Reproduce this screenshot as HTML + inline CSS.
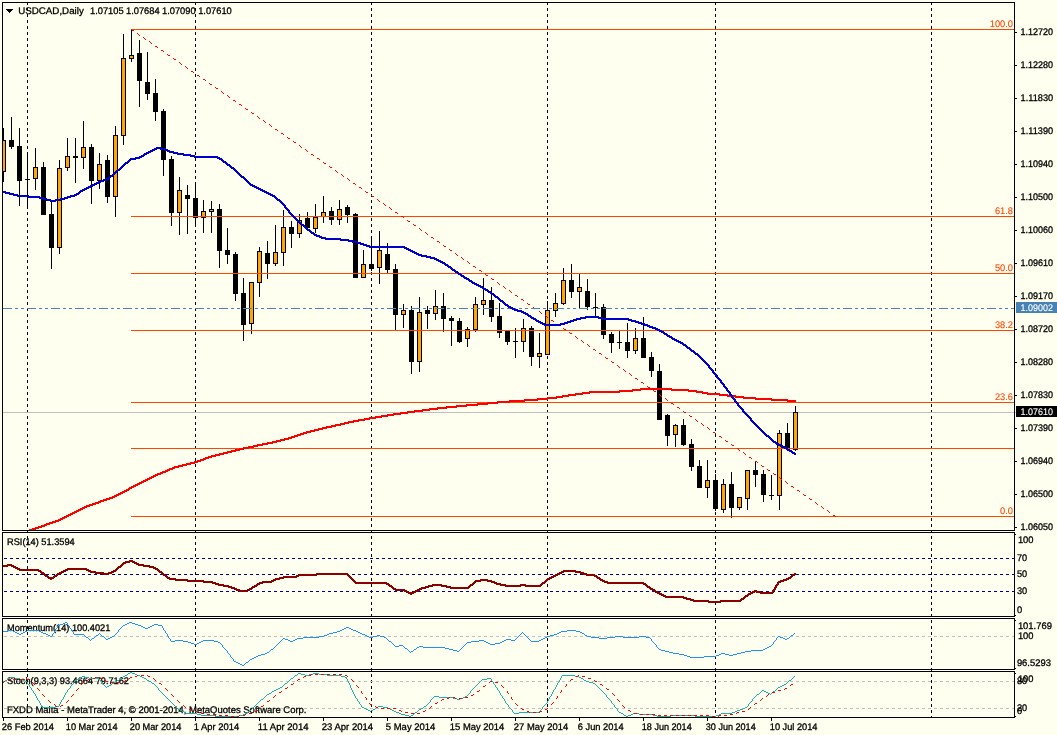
<!DOCTYPE html>
<html lang="en"><head><meta charset="utf-8"><title>USDCAD,Daily</title>
<style>
html,body{margin:0;padding:0;background:#FFFFF0;}
body{width:1057px;height:735px;overflow:hidden;}
svg{display:block;}
text{font-family:"Liberation Sans", "DejaVu Sans", sans-serif;font-size:9.6px;stroke:#000;stroke-width:.3px;text-rendering:geometricPrecision;}
.c{shape-rendering:crispEdges;}
</style></head><body>
<svg width="1057" height="735" viewBox="0 0 1057 735">
<rect width="1057" height="735" fill="#FFFFF0"/>
<defs>
<clipPath id="cm"><rect x="3" y="3" width="1011" height="527"/></clipPath>
<clipPath id="cr"><rect x="3" y="533" width="1011" height="83"/></clipPath>
<clipPath id="co"><rect x="3" y="619" width="1011" height="50"/></clipPath>
<clipPath id="cs"><rect x="3" y="672" width="1011" height="45"/></clipPath>
</defs>
<g class="c">
<line x1="27.5" y1="2" x2="27.5" y2="717" stroke="#000" stroke-width="1" stroke-dasharray="3 3"/>
<line x1="195.5" y1="2" x2="195.5" y2="717" stroke="#000" stroke-width="1" stroke-dasharray="3 3"/>
<line x1="371.5" y1="2" x2="371.5" y2="717" stroke="#000" stroke-width="1" stroke-dasharray="3 3"/>
<line x1="547.5" y1="2" x2="547.5" y2="717" stroke="#000" stroke-width="1" stroke-dasharray="3 3"/>
<line x1="715.5" y1="2" x2="715.5" y2="717" stroke="#000" stroke-width="1" stroke-dasharray="3 3"/>
<line x1="931.5" y1="2" x2="931.5" y2="717" stroke="#000" stroke-width="1" stroke-dasharray="3 3"/>
<rect x="3" y="412" width="1014" height="1" fill="#C0C0C0"/>
<g clip-path="url(#cm)">
<rect x="3" y="128" width="1" height="54" fill="#000"/>
<rect x="1" y="140" width="5" height="32" fill="#000"/>
<rect x="2" y="141" width="3" height="30" fill="#FFA500"/>
<rect x="11" y="117" width="1" height="32" fill="#000"/>
<rect x="9" y="140" width="5" height="7" fill="#000"/>
<rect x="19" y="128" width="1" height="78" fill="#000"/>
<rect x="17" y="146" width="5" height="35" fill="#000"/>
<rect x="27" y="152" width="1" height="57" fill="#000"/>
<rect x="25" y="179" width="5" height="1" fill="#000"/>
<rect x="35" y="148" width="1" height="42" fill="#000"/>
<rect x="33" y="167" width="5" height="12" fill="#000"/>
<rect x="34" y="168" width="3" height="10" fill="#FFA500"/>
<rect x="43" y="162" width="1" height="53" fill="#000"/>
<rect x="41" y="167" width="5" height="48" fill="#000"/>
<rect x="51" y="201" width="1" height="68" fill="#000"/>
<rect x="49" y="214" width="5" height="34" fill="#000"/>
<rect x="59" y="160" width="1" height="94" fill="#000"/>
<rect x="57" y="168" width="5" height="80" fill="#000"/>
<rect x="58" y="169" width="3" height="78" fill="#FFA500"/>
<rect x="67" y="138" width="1" height="33" fill="#000"/>
<rect x="65" y="156" width="5" height="12" fill="#000"/>
<rect x="66" y="157" width="3" height="10" fill="#FFA500"/>
<rect x="75" y="138" width="1" height="45" fill="#000"/>
<rect x="73" y="156" width="5" height="2" fill="#000"/>
<rect x="83" y="121" width="1" height="48" fill="#000"/>
<rect x="81" y="147" width="5" height="11" fill="#000"/>
<rect x="82" y="148" width="3" height="9" fill="#FFA500"/>
<rect x="91" y="144" width="1" height="60" fill="#000"/>
<rect x="89" y="147" width="5" height="34" fill="#000"/>
<rect x="99" y="153" width="1" height="36" fill="#000"/>
<rect x="97" y="164" width="5" height="17" fill="#000"/>
<rect x="98" y="165" width="3" height="15" fill="#FFA500"/>
<rect x="107" y="155" width="1" height="48" fill="#000"/>
<rect x="105" y="160" width="5" height="37" fill="#000"/>
<rect x="115" y="126" width="1" height="91" fill="#000"/>
<rect x="113" y="135" width="5" height="62" fill="#000"/>
<rect x="114" y="136" width="3" height="60" fill="#FFA500"/>
<rect x="123" y="34" width="1" height="111" fill="#000"/>
<rect x="121" y="58" width="5" height="78" fill="#000"/>
<rect x="122" y="59" width="3" height="76" fill="#FFA500"/>
<rect x="131" y="30" width="1" height="32" fill="#000"/>
<rect x="129" y="55" width="5" height="4" fill="#000"/>
<rect x="130" y="56" width="3" height="2" fill="#FFA500"/>
<rect x="139" y="40" width="1" height="67" fill="#000"/>
<rect x="137" y="53" width="5" height="28" fill="#000"/>
<rect x="147" y="52" width="1" height="48" fill="#000"/>
<rect x="145" y="82" width="5" height="12" fill="#000"/>
<rect x="155" y="79" width="1" height="42" fill="#000"/>
<rect x="153" y="93" width="5" height="19" fill="#000"/>
<rect x="163" y="109" width="1" height="67" fill="#000"/>
<rect x="161" y="111" width="5" height="49" fill="#000"/>
<rect x="171" y="156" width="1" height="70" fill="#000"/>
<rect x="169" y="159" width="5" height="54" fill="#000"/>
<rect x="179" y="177" width="1" height="58" fill="#000"/>
<rect x="177" y="190" width="5" height="23" fill="#000"/>
<rect x="178" y="191" width="3" height="21" fill="#FFA500"/>
<rect x="187" y="185" width="1" height="49" fill="#000"/>
<rect x="185" y="195" width="5" height="4" fill="#000"/>
<rect x="195" y="182" width="1" height="45" fill="#000"/>
<rect x="193" y="198" width="5" height="20" fill="#000"/>
<rect x="203" y="200" width="1" height="33" fill="#000"/>
<rect x="201" y="211" width="5" height="7" fill="#000"/>
<rect x="202" y="212" width="3" height="5" fill="#FFA500"/>
<rect x="211" y="201" width="1" height="32" fill="#000"/>
<rect x="209" y="209" width="5" height="3" fill="#000"/>
<rect x="210" y="210" width="3" height="1" fill="#FFA500"/>
<rect x="219" y="204" width="1" height="64" fill="#000"/>
<rect x="217" y="209" width="5" height="42" fill="#000"/>
<rect x="227" y="228" width="1" height="36" fill="#000"/>
<rect x="225" y="250" width="5" height="5" fill="#000"/>
<rect x="235" y="252" width="1" height="49" fill="#000"/>
<rect x="233" y="254" width="5" height="40" fill="#000"/>
<rect x="243" y="278" width="1" height="63" fill="#000"/>
<rect x="241" y="293" width="5" height="32" fill="#000"/>
<rect x="251" y="282" width="1" height="52" fill="#000"/>
<rect x="249" y="282" width="5" height="42" fill="#000"/>
<rect x="250" y="283" width="3" height="40" fill="#FFA500"/>
<rect x="259" y="247" width="1" height="50" fill="#000"/>
<rect x="257" y="251" width="5" height="32" fill="#000"/>
<rect x="258" y="252" width="3" height="30" fill="#FFA500"/>
<rect x="267" y="241" width="1" height="38" fill="#000"/>
<rect x="265" y="253" width="5" height="11" fill="#000"/>
<rect x="275" y="225" width="1" height="41" fill="#000"/>
<rect x="273" y="252" width="5" height="12" fill="#000"/>
<rect x="274" y="253" width="3" height="10" fill="#FFA500"/>
<rect x="283" y="210" width="1" height="56" fill="#000"/>
<rect x="281" y="227" width="5" height="26" fill="#000"/>
<rect x="282" y="228" width="3" height="24" fill="#FFA500"/>
<rect x="291" y="221" width="1" height="27" fill="#000"/>
<rect x="289" y="227" width="5" height="7" fill="#000"/>
<rect x="299" y="214" width="1" height="24" fill="#000"/>
<rect x="297" y="220" width="5" height="14" fill="#000"/>
<rect x="298" y="221" width="3" height="12" fill="#FFA500"/>
<rect x="307" y="212" width="1" height="18" fill="#000"/>
<rect x="305" y="218" width="5" height="10" fill="#000"/>
<rect x="315" y="204" width="1" height="29" fill="#000"/>
<rect x="313" y="217" width="5" height="12" fill="#000"/>
<rect x="314" y="218" width="3" height="10" fill="#FFA500"/>
<rect x="323" y="196" width="1" height="27" fill="#000"/>
<rect x="321" y="212" width="5" height="5" fill="#000"/>
<rect x="322" y="213" width="3" height="3" fill="#FFA500"/>
<rect x="331" y="207" width="1" height="18" fill="#000"/>
<rect x="329" y="211" width="5" height="9" fill="#000"/>
<rect x="339" y="200" width="1" height="25" fill="#000"/>
<rect x="337" y="209" width="5" height="11" fill="#000"/>
<rect x="338" y="210" width="3" height="9" fill="#FFA500"/>
<rect x="347" y="205" width="1" height="18" fill="#000"/>
<rect x="345" y="207" width="5" height="8" fill="#000"/>
<rect x="355" y="213" width="1" height="65" fill="#000"/>
<rect x="353" y="214" width="5" height="64" fill="#000"/>
<rect x="363" y="250" width="1" height="28" fill="#000"/>
<rect x="361" y="264" width="5" height="14" fill="#000"/>
<rect x="362" y="265" width="3" height="12" fill="#FFA500"/>
<rect x="371" y="237" width="1" height="34" fill="#000"/>
<rect x="369" y="264" width="5" height="5" fill="#000"/>
<rect x="379" y="231" width="1" height="53" fill="#000"/>
<rect x="377" y="250" width="5" height="18" fill="#000"/>
<rect x="378" y="251" width="3" height="16" fill="#FFA500"/>
<rect x="387" y="243" width="1" height="31" fill="#000"/>
<rect x="385" y="254" width="5" height="16" fill="#000"/>
<rect x="395" y="264" width="1" height="66" fill="#000"/>
<rect x="393" y="269" width="5" height="46" fill="#000"/>
<rect x="403" y="304" width="1" height="24" fill="#000"/>
<rect x="401" y="310" width="5" height="5" fill="#000"/>
<rect x="402" y="311" width="3" height="3" fill="#FFA500"/>
<rect x="411" y="306" width="1" height="68" fill="#000"/>
<rect x="409" y="310" width="5" height="52" fill="#000"/>
<rect x="419" y="297" width="1" height="75" fill="#000"/>
<rect x="417" y="312" width="5" height="50" fill="#000"/>
<rect x="418" y="313" width="3" height="48" fill="#FFA500"/>
<rect x="427" y="306" width="1" height="23" fill="#000"/>
<rect x="425" y="310" width="5" height="4" fill="#000"/>
<rect x="435" y="290" width="1" height="30" fill="#000"/>
<rect x="433" y="306" width="5" height="8" fill="#000"/>
<rect x="434" y="307" width="3" height="6" fill="#FFA500"/>
<rect x="443" y="293" width="1" height="39" fill="#000"/>
<rect x="441" y="306" width="5" height="13" fill="#000"/>
<rect x="451" y="316" width="1" height="30" fill="#000"/>
<rect x="449" y="318" width="5" height="3" fill="#000"/>
<rect x="459" y="318" width="1" height="25" fill="#000"/>
<rect x="457" y="321" width="5" height="21" fill="#000"/>
<rect x="467" y="327" width="1" height="20" fill="#000"/>
<rect x="465" y="329" width="5" height="10" fill="#000"/>
<rect x="466" y="330" width="3" height="8" fill="#FFA500"/>
<rect x="475" y="297" width="1" height="35" fill="#000"/>
<rect x="473" y="304" width="5" height="26" fill="#000"/>
<rect x="474" y="305" width="3" height="24" fill="#FFA500"/>
<rect x="483" y="278" width="1" height="37" fill="#000"/>
<rect x="481" y="300" width="5" height="5" fill="#000"/>
<rect x="482" y="301" width="3" height="3" fill="#FFA500"/>
<rect x="491" y="287" width="1" height="35" fill="#000"/>
<rect x="489" y="300" width="5" height="17" fill="#000"/>
<rect x="499" y="303" width="1" height="35" fill="#000"/>
<rect x="497" y="316" width="5" height="17" fill="#000"/>
<rect x="507" y="330" width="1" height="15" fill="#000"/>
<rect x="505" y="331" width="5" height="11" fill="#000"/>
<rect x="515" y="328" width="1" height="30" fill="#000"/>
<rect x="513" y="341" width="5" height="1" fill="#000"/>
<rect x="523" y="319" width="1" height="33" fill="#000"/>
<rect x="521" y="328" width="5" height="14" fill="#000"/>
<rect x="522" y="329" width="3" height="12" fill="#FFA500"/>
<rect x="531" y="326" width="1" height="40" fill="#000"/>
<rect x="529" y="328" width="5" height="29" fill="#000"/>
<rect x="539" y="333" width="1" height="35" fill="#000"/>
<rect x="537" y="353" width="5" height="4" fill="#000"/>
<rect x="538" y="354" width="3" height="2" fill="#FFA500"/>
<rect x="547" y="301" width="1" height="54" fill="#000"/>
<rect x="545" y="310" width="5" height="45" fill="#000"/>
<rect x="546" y="311" width="3" height="43" fill="#FFA500"/>
<rect x="555" y="293" width="1" height="24" fill="#000"/>
<rect x="553" y="303" width="5" height="8" fill="#000"/>
<rect x="554" y="304" width="3" height="6" fill="#FFA500"/>
<rect x="563" y="268" width="1" height="37" fill="#000"/>
<rect x="561" y="280" width="5" height="24" fill="#000"/>
<rect x="562" y="281" width="3" height="22" fill="#FFA500"/>
<rect x="571" y="264" width="1" height="34" fill="#000"/>
<rect x="569" y="280" width="5" height="12" fill="#000"/>
<rect x="579" y="274" width="1" height="35" fill="#000"/>
<rect x="577" y="287" width="5" height="5" fill="#000"/>
<rect x="578" y="288" width="3" height="3" fill="#FFA500"/>
<rect x="587" y="279" width="1" height="31" fill="#000"/>
<rect x="585" y="291" width="5" height="16" fill="#000"/>
<rect x="595" y="293" width="1" height="24" fill="#000"/>
<rect x="593" y="307" width="5" height="1" fill="#000"/>
<rect x="603" y="304" width="1" height="35" fill="#000"/>
<rect x="601" y="307" width="5" height="28" fill="#000"/>
<rect x="611" y="332" width="1" height="21" fill="#000"/>
<rect x="609" y="334" width="5" height="9" fill="#000"/>
<rect x="619" y="331" width="1" height="18" fill="#000"/>
<rect x="617" y="342" width="5" height="1" fill="#000"/>
<rect x="627" y="323" width="1" height="35" fill="#000"/>
<rect x="625" y="342" width="5" height="9" fill="#000"/>
<rect x="635" y="328" width="1" height="26" fill="#000"/>
<rect x="633" y="338" width="5" height="13" fill="#000"/>
<rect x="634" y="339" width="3" height="11" fill="#FFA500"/>
<rect x="643" y="317" width="1" height="41" fill="#000"/>
<rect x="641" y="338" width="5" height="20" fill="#000"/>
<rect x="651" y="352" width="1" height="25" fill="#000"/>
<rect x="649" y="357" width="5" height="14" fill="#000"/>
<rect x="659" y="364" width="1" height="56" fill="#000"/>
<rect x="657" y="371" width="5" height="49" fill="#000"/>
<rect x="667" y="414" width="1" height="32" fill="#000"/>
<rect x="665" y="415" width="5" height="21" fill="#000"/>
<rect x="675" y="424" width="1" height="23" fill="#000"/>
<rect x="673" y="425" width="5" height="10" fill="#000"/>
<rect x="674" y="426" width="3" height="8" fill="#FFA500"/>
<rect x="683" y="419" width="1" height="27" fill="#000"/>
<rect x="681" y="425" width="5" height="20" fill="#000"/>
<rect x="691" y="439" width="1" height="32" fill="#000"/>
<rect x="689" y="444" width="5" height="23" fill="#000"/>
<rect x="699" y="460" width="1" height="28" fill="#000"/>
<rect x="697" y="466" width="5" height="22" fill="#000"/>
<rect x="707" y="460" width="1" height="38" fill="#000"/>
<rect x="705" y="480" width="5" height="8" fill="#000"/>
<rect x="706" y="481" width="3" height="6" fill="#FFA500"/>
<rect x="715" y="474" width="1" height="37" fill="#000"/>
<rect x="713" y="480" width="5" height="29" fill="#000"/>
<rect x="723" y="479" width="1" height="34" fill="#000"/>
<rect x="721" y="484" width="5" height="26" fill="#000"/>
<rect x="722" y="485" width="3" height="24" fill="#FFA500"/>
<rect x="731" y="472" width="1" height="46" fill="#000"/>
<rect x="729" y="484" width="5" height="24" fill="#000"/>
<rect x="739" y="497" width="1" height="13" fill="#000"/>
<rect x="737" y="497" width="5" height="11" fill="#000"/>
<rect x="738" y="498" width="3" height="9" fill="#FFA500"/>
<rect x="747" y="470" width="1" height="40" fill="#000"/>
<rect x="745" y="470" width="5" height="29" fill="#000"/>
<rect x="746" y="471" width="3" height="27" fill="#FFA500"/>
<rect x="755" y="461" width="1" height="26" fill="#000"/>
<rect x="753" y="470" width="5" height="5" fill="#000"/>
<rect x="763" y="470" width="1" height="32" fill="#000"/>
<rect x="761" y="474" width="5" height="21" fill="#000"/>
<rect x="771" y="475" width="1" height="25" fill="#000"/>
<rect x="769" y="495" width="5" height="1" fill="#000"/>
<rect x="779" y="430" width="1" height="80" fill="#000"/>
<rect x="777" y="433" width="5" height="63" fill="#000"/>
<rect x="778" y="434" width="3" height="61" fill="#FFA500"/>
<rect x="787" y="423" width="1" height="26" fill="#000"/>
<rect x="785" y="433" width="5" height="16" fill="#000"/>
<rect x="795" y="406" width="1" height="45" fill="#000"/>
<rect x="793" y="412" width="5" height="38" fill="#000"/>
<rect x="794" y="413" width="3" height="36" fill="#FFA500"/>
</g>
</g>
<g class="c">
<rect x="131" y="29" width="883" height="1" fill="#FF4500"/>
<rect x="131" y="216" width="883" height="1" fill="#FF4500"/>
<rect x="131" y="273" width="883" height="1" fill="#FF4500"/>
<rect x="131" y="330" width="883" height="1" fill="#FF4500"/>
<rect x="131" y="402" width="883" height="1" fill="#FF4500"/>
<rect x="131" y="448" width="883" height="1" fill="#FF4500"/>
<rect x="131" y="516" width="883" height="1" fill="#FF4500"/>
</g>
<g class="c" clip-path="url(#cm)">
<path d="M131 29h1v1h-1zM132 30h2v1h-2zM137 33h1v1h-1zM138 34h1v1h-1zM139 35h1v1h-1zM143 37h1v1h-1zM144 38h1v1h-1zM145 39h1v1h-1zM149 41h1v1h-1zM150 42h1v1h-1zM151 43h1v1h-1zM155 46h2v1h-2zM157 47h1v1h-1zM161 50h2v1h-2zM163 51h1v1h-1zM167 54h1v1h-1zM168 55h2v1h-2zM173 58h1v1h-1zM174 59h2v1h-2zM179 62h1v1h-1zM180 63h1v1h-1zM181 64h1v1h-1zM185 66h1v1h-1zM186 67h1v1h-1zM187 68h1v1h-1zM191 71h2v1h-2zM193 72h1v1h-1zM197 75h2v1h-2zM199 76h1v1h-1zM203 79h2v1h-2zM205 80h1v1h-1zM209 83h1v1h-1zM210 84h2v1h-2zM215 87h1v1h-1zM216 88h2v1h-2zM221 91h1v1h-1zM222 92h1v1h-1zM223 93h1v1h-1zM227 95h1v1h-1zM228 96h1v1h-1zM229 97h1v1h-1zM233 100h2v1h-2zM235 101h1v1h-1zM239 104h2v1h-2zM241 105h1v1h-1zM245 108h1v1h-1zM246 109h2v1h-2zM251 112h1v1h-1zM252 113h2v1h-2zM257 116h1v1h-1zM258 117h1v1h-1zM259 118h1v1h-1zM263 120h1v1h-1zM264 121h1v1h-1zM265 122h1v1h-1zM269 124h1v1h-1zM270 125h1v1h-1zM271 126h1v1h-1zM275 129h2v1h-2zM277 130h1v1h-1zM281 133h2v1h-2zM283 134h1v1h-1zM287 137h1v1h-1zM288 138h2v1h-2zM293 141h1v1h-1zM294 142h2v1h-2zM299 145h1v1h-1zM300 146h1v1h-1zM301 147h1v1h-1zM305 149h1v1h-1zM306 150h1v1h-1zM307 151h1v1h-1zM311 154h2v1h-2zM313 155h1v1h-1zM317 158h2v1h-2zM319 159h1v1h-1zM323 162h1v1h-1zM324 163h2v1h-2zM329 166h1v1h-1zM330 167h2v1h-2zM335 170h1v1h-1zM336 171h1v1h-1zM337 172h1v1h-1zM341 174h1v1h-1zM342 175h1v1h-1zM343 176h1v1h-1zM347 178h1v1h-1zM348 179h1v1h-1zM349 180h1v1h-1zM353 183h2v1h-2zM355 184h1v1h-1zM359 187h2v1h-2zM361 188h1v1h-1zM365 191h1v1h-1zM366 192h2v1h-2zM371 195h1v1h-1zM372 196h2v1h-2zM377 199h1v1h-1zM378 200h1v1h-1zM379 201h1v1h-1zM383 203h1v1h-1zM384 204h1v1h-1zM385 205h1v1h-1zM389 207h1v1h-1zM390 208h1v1h-1zM391 209h1v1h-1zM395 212h2v1h-2zM397 213h1v1h-1zM401 216h2v1h-2zM403 217h1v1h-1zM407 220h1v1h-1zM408 221h2v1h-2zM413 224h1v1h-1zM414 225h2v1h-2zM419 228h1v1h-1zM420 229h1v1h-1zM421 230h1v1h-1zM425 232h1v1h-1zM426 233h1v1h-1zM427 234h1v1h-1zM431 237h2v1h-2zM433 238h1v1h-1zM437 241h2v1h-2zM439 242h1v1h-1zM443 245h1v1h-1zM444 246h2v1h-2zM449 249h1v1h-1zM450 250h2v1h-2zM455 253h1v1h-1zM456 254h1v1h-1zM457 255h1v1h-1zM461 257h1v1h-1zM462 258h1v1h-1zM463 259h1v1h-1zM467 261h1v1h-1zM468 262h1v1h-1zM469 263h1v1h-1zM473 266h2v1h-2zM475 267h1v1h-1zM479 270h2v1h-2zM481 271h1v1h-1zM485 274h1v1h-1zM486 275h2v1h-2zM491 278h1v1h-1zM492 279h2v1h-2zM497 282h1v1h-1zM498 283h1v1h-1zM499 284h1v1h-1zM503 286h1v1h-1zM504 287h1v1h-1zM505 288h1v1h-1zM509 290h1v1h-1zM510 291h1v1h-1zM511 292h1v1h-1zM515 295h2v1h-2zM517 296h1v1h-1zM521 299h2v1h-2zM523 300h1v1h-1zM527 303h1v1h-1zM528 304h2v1h-2zM533 307h1v1h-1zM534 308h2v1h-2zM539 311h1v1h-1zM540 312h1v1h-1zM541 313h1v1h-1zM545 315h1v1h-1zM546 316h1v1h-1zM547 317h1v1h-1zM551 320h2v1h-2zM553 321h1v1h-1zM557 324h2v1h-2zM559 325h1v1h-1zM563 328h1v1h-1zM564 329h2v1h-2zM569 332h1v1h-1zM570 333h2v1h-2zM575 336h1v1h-1zM576 337h1v1h-1zM577 338h1v1h-1zM581 340h1v1h-1zM582 341h1v1h-1zM583 342h1v1h-1zM587 344h1v1h-1zM588 345h1v1h-1zM589 346h1v1h-1zM593 349h2v1h-2zM595 350h1v1h-1zM599 353h2v1h-2zM601 354h1v1h-1zM605 357h1v1h-1zM606 358h2v1h-2zM611 361h1v1h-1zM612 362h2v1h-2zM617 365h1v1h-1zM618 366h1v1h-1zM619 367h1v1h-1zM623 369h1v1h-1zM624 370h1v1h-1zM625 371h1v1h-1zM629 373h1v1h-1zM630 374h1v1h-1zM631 375h1v1h-1zM635 378h2v1h-2zM637 379h1v1h-1zM641 382h2v1h-2zM643 383h1v1h-1zM647 386h1v1h-1zM648 387h2v1h-2zM653 390h1v1h-1zM654 391h2v1h-2zM659 394h1v1h-1zM660 395h1v1h-1zM661 396h1v1h-1zM665 398h1v1h-1zM666 399h1v1h-1zM667 400h1v1h-1zM671 403h2v1h-2zM673 404h1v1h-1zM677 407h2v1h-2zM679 408h1v1h-1zM683 411h1v1h-1zM684 412h2v1h-2zM689 415h1v1h-1zM690 416h2v1h-2zM695 419h1v1h-1zM696 420h1v1h-1zM697 421h1v1h-1zM701 423h1v1h-1zM702 424h1v1h-1zM703 425h1v1h-1zM707 427h1v1h-1zM708 428h1v1h-1zM709 429h1v1h-1zM713 432h2v1h-2zM715 433h1v1h-1zM719 436h2v1h-2zM721 437h1v1h-1zM725 440h1v1h-1zM726 441h2v1h-2zM731 444h1v1h-1zM732 445h2v1h-2zM737 448h1v1h-1zM738 449h1v1h-1zM739 450h1v1h-1zM743 452h1v1h-1zM744 453h1v1h-1zM745 454h1v1h-1zM749 457h2v1h-2zM751 458h1v1h-1zM755 461h2v1h-2zM757 462h1v1h-1zM761 465h1v1h-1zM762 466h2v1h-2zM767 469h1v1h-1zM768 470h2v1h-2zM773 473h1v1h-1zM774 474h2v1h-2zM779 477h1v1h-1zM780 478h1v1h-1zM781 479h1v1h-1zM785 481h1v1h-1zM786 482h1v1h-1zM787 483h1v1h-1zM791 486h2v1h-2zM793 487h1v1h-1zM797 490h2v1h-2zM799 491h1v1h-1zM803 494h1v1h-1zM804 495h2v1h-2zM809 498h1v1h-1zM810 499h2v1h-2zM815 502h1v1h-1zM816 503h1v1h-1zM817 504h1v1h-1zM821 506h1v1h-1zM822 507h1v1h-1zM823 508h1v1h-1zM827 510h1v1h-1zM828 511h1v1h-1zM829 512h1v1h-1zM833 515h2v1h-2zM835 516h1v1h-1z" fill="#FF0000"/>
<line x1="3" y1="308.5" x2="1014" y2="308.5" stroke="#4682B4" stroke-width="1" stroke-dasharray="9 3 3 3 3 3"/>
<path d="M29 529h7v1h-7zM32 528h7v1h-7zM35 527h7v1h-7zM38 526h7v1h-7zM41 525h6v1h-6zM44 524h6v1h-6zM46 523h7v1h-7zM49 522h7v1h-7zM52 521h7v1h-7zM55 520h6v1h-6zM58 519h5v1h-5zM60 518h5v1h-5zM62 517h5v1h-5zM64 516h5v1h-5zM66 515h5v1h-5zM68 514h5v1h-5zM70 513h5v1h-5zM72 512h5v1h-5zM74 511h5v1h-5zM76 510h5v1h-5zM78 509h5v1h-5zM80 508h5v1h-5zM82 507h5v1h-5zM84 506h6v1h-6zM86 505h7v1h-7zM89 504h7v1h-7zM92 503h7v1h-7zM95 502h6v1h-6zM98 501h6v1h-6zM100 500h7v1h-7zM103 499h7v1h-7zM106 498h7v1h-7zM109 497h6v1h-6zM112 496h5v1h-5zM114 495h5v1h-5zM116 494h5v1h-5zM118 493h5v1h-5zM120 492h5v1h-5zM122 491h5v1h-5zM124 490h5v1h-5zM126 489h4v1h-4zM128 488h4v1h-4zM129 487h5v1h-5zM131 486h5v1h-5zM133 485h5v1h-5zM135 484h5v1h-5zM137 483h5v1h-5zM139 482h5v1h-5zM141 481h5v1h-5zM143 480h5v1h-5zM145 479h5v1h-5zM147 478h5v1h-5zM149 477h5v1h-5zM151 476h5v1h-5zM153 475h5v1h-5zM155 474h6v1h-6zM157 473h6v1h-6zM160 472h6v1h-6zM162 471h6v1h-6zM165 470h5v1h-5zM167 469h6v1h-6zM169 468h6v1h-6zM172 467h7v1h-7zM174 466h9v1h-9zM178 465h9v1h-9zM182 464h9v1h-9zM186 463h9v1h-9zM190 462h8v1h-8zM194 461h7v1h-7zM197 460h7v1h-7zM200 459h6v1h-6zM203 458h6v1h-6zM205 457h7v1h-7zM208 456h8v1h-8zM211 455h9v1h-9zM215 454h9v1h-9zM219 453h9v1h-9zM223 452h9v1h-9zM227 451h9v1h-9zM231 450h9v1h-9zM235 449h9v1h-9zM239 448h10v1h-10zM243 447h11v1h-11zM248 446h10v1h-10zM253 445h10v1h-10zM257 444h11v1h-11zM262 443h11v1h-11zM267 442h10v1h-10zM272 441h9v1h-9zM276 440h9v1h-9zM280 439h9v1h-9zM284 438h8v1h-8zM288 437h7v1h-7zM291 436h7v1h-7zM294 435h7v1h-7zM297 434h7v1h-7zM300 433h7v1h-7zM303 432h8v1h-8zM306 431h9v1h-9zM310 430h9v1h-9zM314 429h9v1h-9zM318 428h9v1h-9zM322 427h10v1h-10zM326 426h10v1h-10zM331 425h10v1h-10zM335 424h10v1h-10zM340 423h9v1h-9zM344 422h10v1h-10zM348 421h11v1h-11zM353 420h12v1h-12zM358 419h12v1h-12zM364 418h12v1h-12zM369 417h13v1h-13zM375 416h13v1h-13zM381 415h13v1h-13zM387 414h14v1h-14zM393 413h15v1h-15zM400 412h15v1h-15zM407 411h16v1h-16zM414 410h16v1h-16zM422 409h16v1h-16zM429 408h18v1h-18zM437 407h20v1h-20zM446 406h21v1h-21zM456 405h22v1h-22zM466 404h22v1h-22zM477 403h21v1h-21zM487 402h23v1h-23zM497 401h28v1h-28zM509 400h29v1h-29zM524 399h24v1h-24zM537 398h20v1h-20zM547 397h16v1h-16zM556 396h13v1h-13zM562 395h14v1h-14zM568 394h15v1h-15zM575 393h15v1h-15zM582 392h38v1h-38zM589 391h44v1h-44zM619 390h22v1h-22zM632 389h57v1h-57zM640 388h32v1h-32zM671 390h26v1h-26zM688 391h15v1h-15zM696 392h12v1h-12zM702 393h18v1h-18zM707 394h21v1h-21zM719 395h17v1h-17zM727 396h17v1h-17zM735 397h21v1h-21zM743 398h29v1h-29zM755 399h33v1h-33zM771 400h25v1h-25zM787 401h9v1h-9z" fill="#FF0000"/>
<path d="M3 191h3v1h-3zM3 192h7v1h-7zM5 193h9v1h-9zM9 194h9v1h-9zM13 195h16v1h-16zM17 196h23v1h-23zM28 197h16v1h-16zM39 198h8v1h-8zM43 199h8v1h-8zM46 200h15v1h-15zM50 201h6v1h-6zM55 199h10v1h-10zM60 198h8v1h-8zM64 197h7v1h-7zM67 196h8v1h-8zM70 195h7v1h-7zM74 194h5v1h-5zM76 193h4v1h-4zM78 192h3v1h-3zM79 191h4v1h-4zM80 190h5v1h-5zM82 189h5v1h-5zM84 188h5v1h-5zM86 187h5v1h-5zM88 186h5v1h-5zM90 185h5v1h-5zM92 184h5v1h-5zM94 183h5v1h-5zM96 182h5v1h-5zM98 181h6v1h-6zM100 180h7v1h-7zM103 179h6v1h-6zM106 178h4v1h-4zM108 177h3v1h-3zM109 176h4v1h-4zM110 175h4v1h-4zM112 174h3v1h-3zM113 173h3v1h-3zM114 172h3v1h-3zM115 171h3v1h-3zM116 170h4v1h-4zM117 169h4v1h-4zM119 168h3v1h-3zM120 167h3v1h-3zM121 166h3v1h-3zM122 165h3v1h-3zM123 164h3v1h-3zM124 163h4v1h-4zM125 162h4v1h-4zM127 161h3v1h-3zM128 160h3v1h-3zM129 159h7v1h-7zM130 158h10v1h-10zM135 157h7v1h-7zM139 156h5v1h-5zM141 155h4v1h-4zM143 154h4v1h-4zM144 153h5v1h-5zM146 152h5v1h-5zM148 151h5v1h-5zM150 150h5v1h-5zM152 149h5v1h-5zM154 148h12v1h-12zM156 147h5v1h-5zM160 149h8v1h-8zM165 150h5v1h-5zM167 151h7v1h-7zM169 152h9v1h-9zM173 153h11v1h-11zM177 154h14v1h-14zM183 155h12v1h-12zM190 156h28v1h-28zM194 157h26v1h-26zM217 158h5v1h-5zM219 159h4v1h-4zM221 160h3v1h-3zM222 161h4v1h-4zM223 162h4v1h-4zM225 163h3v1h-3zM226 164h4v1h-4zM227 165h4v1h-4zM229 166h3v1h-3zM230 167h4v1h-4zM231 168h4v1h-4zM233 169h3v1h-3zM234 170h3v1h-3zM235 171h3v1h-3zM236 172h3v1h-3zM237 173h3v1h-3zM238 174h3v1h-3zM239 175h3v1h-3zM240 176h4v1h-4zM241 177h4v1h-4zM243 178h3v1h-3zM244 179h3v1h-3zM245 180h3v1h-3zM246 181h3v1h-3zM247 182h3v1h-3zM248 183h3v1h-3zM249 184h4v1h-4zM250 185h5v1h-5zM252 186h5v1h-5zM254 187h5v1h-5zM256 188h5v1h-5zM258 189h5v1h-5zM260 190h5v1h-5zM262 191h5v1h-5zM264 192h5v1h-5zM266 193h5v1h-5zM268 194h5v1h-5zM270 195h5v1h-5zM272 196h4v1h-4zM274 197h3v1h-3zM275 198h3v1h-3zM276 199h4v1h-4zM277 200h4v1h-4zM279 201h3v1h-3zM280 202h3v1h-3zM281 203h3v1h-3zM282 204h3v1h-3zM283 205h3v1h-3zM284 206h2v1h-2zM284 207h3v1h-3zM285 208h3v1h-3zM286 209h3v1h-3zM287 210h3v1h-3zM288 211h2v1h-2zM288 212h3v1h-3zM289 213h3v1h-3zM290 214h3v1h-3zM291 215h3v1h-3zM292 216h3v1h-3zM293 217h3v1h-3zM294 218h3v1h-3zM295 219h3v1h-3zM296 220h3v1h-3zM297 221h3v1h-3zM298 222h3v1h-3zM299 223h3v1h-3zM300 224h4v1h-4zM301 225h4v1h-4zM303 226h3v1h-3zM304 227h3v1h-3zM305 228h3v1h-3zM306 229h4v1h-4zM307 230h4v1h-4zM309 231h3v1h-3zM310 232h4v1h-4zM311 233h4v1h-4zM313 234h4v1h-4zM314 235h6v1h-6zM316 236h6v1h-6zM319 237h7v1h-7zM321 238h20v1h-20zM325 239h24v1h-24zM340 240h13v1h-13zM348 241h10v1h-10zM352 242h9v1h-9zM357 243h7v1h-7zM360 244h7v1h-7zM363 245h7v1h-7zM366 246h39v1h-39zM369 247h38v1h-38zM404 248h5v1h-5zM406 249h5v1h-5zM408 250h5v1h-5zM410 251h5v1h-5zM412 252h5v1h-5zM414 253h5v1h-5zM416 254h6v1h-6zM418 255h9v1h-9zM421 256h10v1h-10zM426 257h9v1h-9zM430 258h7v1h-7zM434 259h5v1h-5zM436 260h5v1h-5zM438 261h5v1h-5zM440 262h5v1h-5zM442 263h4v1h-4zM444 264h4v1h-4zM445 265h4v1h-4zM447 266h4v1h-4zM448 267h4v1h-4zM450 268h3v1h-3zM451 269h4v1h-4zM452 270h4v1h-4zM454 271h4v1h-4zM455 272h4v1h-4zM457 273h4v1h-4zM458 274h4v1h-4zM460 275h4v1h-4zM461 276h4v1h-4zM463 277h4v1h-4zM464 278h5v1h-5zM466 279h4v1h-4zM468 280h4v1h-4zM469 281h4v1h-4zM471 282h4v1h-4zM472 283h5v1h-5zM474 284h5v1h-5zM476 285h5v1h-5zM478 286h5v1h-5zM480 287h4v1h-4zM482 288h4v1h-4zM483 289h5v1h-5zM485 290h4v1h-4zM487 291h4v1h-4zM488 292h4v1h-4zM490 293h4v1h-4zM491 294h4v1h-4zM493 295h3v1h-3zM494 296h4v1h-4zM495 297h4v1h-4zM497 298h3v1h-3zM498 299h3v1h-3zM499 300h4v1h-4zM500 301h4v1h-4zM502 302h3v1h-3zM503 303h3v1h-3zM504 304h4v1h-4zM505 305h4v1h-4zM507 306h4v1h-4zM508 307h5v1h-5zM510 308h5v1h-5zM512 309h6v1h-6zM514 310h8v1h-8zM517 311h7v1h-7zM521 312h5v1h-5zM523 313h5v1h-5zM525 314h4v1h-4zM527 315h4v1h-4zM528 316h4v1h-4zM530 317h4v1h-4zM531 318h5v1h-5zM533 319h4v1h-4zM535 320h4v1h-4zM536 321h5v1h-5zM538 322h5v1h-5zM540 323h5v1h-5zM542 324h23v1h-23zM544 325h17v1h-17zM560 323h8v1h-8zM564 322h7v1h-7zM567 321h7v1h-7zM570 320h7v1h-7zM573 319h8v1h-8zM576 318h10v1h-10zM580 317h23v1h-23zM585 316h14v1h-14zM598 318h31v1h-31zM602 319h30v1h-30zM628 320h8v1h-8zM631 321h8v1h-8zM635 322h7v1h-7zM638 323h7v1h-7zM641 324h7v1h-7zM644 325h6v1h-6zM647 326h6v1h-6zM649 327h7v1h-7zM652 328h6v1h-6zM655 329h5v1h-5zM657 330h5v1h-5zM659 331h5v1h-5zM661 332h4v1h-4zM663 333h4v1h-4zM664 334h4v1h-4zM666 335h4v1h-4zM667 336h5v1h-5zM669 337h4v1h-4zM671 338h4v1h-4zM672 339h5v1h-5zM674 340h5v1h-5zM676 341h5v1h-5zM678 342h5v1h-5zM680 343h4v1h-4zM682 344h4v1h-4zM683 345h4v1h-4zM685 346h3v1h-3zM686 347h4v1h-4zM687 348h4v1h-4zM689 349h3v1h-3zM690 350h4v1h-4zM691 351h4v1h-4zM693 352h3v1h-3zM694 353h4v1h-4zM695 354h4v1h-4zM697 355h3v1h-3zM698 356h3v1h-3zM699 357h3v1h-3zM700 358h3v1h-3zM701 359h3v1h-3zM702 360h3v1h-3zM703 361h3v1h-3zM704 362h3v1h-3zM705 363h3v1h-3zM706 364h3v1h-3zM707 365h3v1h-3zM708 366h2v1h-2zM708 367h3v1h-3zM709 368h3v1h-3zM710 369h3v1h-3zM711 370h3v1h-3zM712 371h2v1h-2zM712 372h3v1h-3zM713 373h3v1h-3zM714 374h3v1h-3zM715 375h3v1h-3zM716 376h2v1h-2zM716 377h3v1h-3zM717 378h3v1h-3zM718 379h3v1h-3zM719 380h3v1h-3zM720 381h2v1h-2zM720 382h3v1h-3zM721 383h3v1h-3zM722 384h3v1h-3zM723 385h2v1h-2zM723 386h3v1h-3zM724 387h3v1h-3zM725 388h3v1h-3zM726 389h2v1h-2zM726 390h3v1h-3zM727 391h3v1h-3zM728 392h3v1h-3zM729 393h2v1h-2zM729 394h3v1h-3zM730 395h3v1h-3zM731 396h2v1h-2zM731 397h3v1h-3zM732 398h3v1h-3zM733 399h3v1h-3zM734 400h2v1h-2zM734 401h3v1h-3zM735 402h3v1h-3zM736 403h3v1h-3zM737 404h2v1h-2zM737 405h3v1h-3zM738 406h3v1h-3zM739 407h3v1h-3zM740 408h3v1h-3zM741 409h3v1h-3zM742 410h2v1h-2zM742 411h3v1h-3zM743 412h3v1h-3zM744 413h3v1h-3zM745 414h3v1h-3zM746 415h3v1h-3zM747 416h3v1h-3zM748 417h3v1h-3zM749 418h3v1h-3zM750 419h2v1h-2zM750 420h3v1h-3zM751 421h3v1h-3zM752 422h3v1h-3zM753 423h3v1h-3zM754 424h3v1h-3zM755 425h3v1h-3zM756 426h3v1h-3zM757 427h3v1h-3zM758 428h3v1h-3zM759 429h3v1h-3zM760 430h3v1h-3zM761 431h3v1h-3zM762 432h3v1h-3zM763 433h3v1h-3zM764 434h3v1h-3zM765 435h4v1h-4zM766 436h4v1h-4zM768 437h3v1h-3zM769 438h3v1h-3zM770 439h3v1h-3zM771 440h3v1h-3zM772 441h4v1h-4zM773 442h4v1h-4zM775 443h4v1h-4zM776 444h5v1h-5zM778 445h5v1h-5zM780 446h5v1h-5zM782 447h5v1h-5zM784 448h4v1h-4zM786 449h4v1h-4zM787 450h5v1h-5zM789 451h4v1h-4zM791 452h4v1h-4zM792 453h4v1h-4zM794 454h2v1h-2z" fill="#0000CD"/>
</g>
<g class="c">
<line x1="4" y1="558.5" x2="1014" y2="558.5" stroke="#00008B" stroke-width="1" stroke-dasharray="3 3"/>
<line x1="4" y1="574.5" x2="1014" y2="574.5" stroke="#00008B" stroke-width="1" stroke-dasharray="3 3"/>
<line x1="4" y1="591.5" x2="1014" y2="591.5" stroke="#00008B" stroke-width="1" stroke-dasharray="3 3"/>
<line x1="4" y1="636.5" x2="1014" y2="636.5" stroke="#C0C0C0" stroke-width="1" stroke-dasharray="3 3"/>
<line x1="4" y1="681.5" x2="1014" y2="681.5" stroke="#C0C0C0" stroke-width="1" stroke-dasharray="3 3"/>
<line x1="4" y1="708.5" x2="1014" y2="708.5" stroke="#C0C0C0" stroke-width="1" stroke-dasharray="3 3"/>
</g>
<g>
<text x="7" y="545" textLength="67.7" lengthAdjust="spacingAndGlyphs">RSI(14) 51.3594</text>
<text x="7" y="631" textLength="103.3" lengthAdjust="spacingAndGlyphs">Momentum(14) 100.4021</text>
<text x="7" y="684" textLength="122" lengthAdjust="spacingAndGlyphs">Stoch(9,3,3) 93.4664 79.7162</text>
<text x="7" y="713" textLength="299.5" lengthAdjust="spacingAndGlyphs">FXDD Malta - MetaTrader 4, © 2001-2014, MetaQuotes Software Corp.</text>
</g>
<g class="c">
<path d="M3 565h11v1h-11zM3 566h5v1h-5zM7 564h5v1h-5zM11 566h5v1h-5zM13 567h5v1h-5zM15 568h5v1h-5zM17 569h22v1h-22zM19 570h22v1h-22zM38 571h4v1h-4zM40 572h4v1h-4zM41 573h4v1h-4zM43 574h3v1h-3zM44 575h4v1h-4zM45 576h4v1h-4zM47 577h8v1h-8zM48 578h6v1h-6zM50 579h2v1h-2zM53 576h4v1h-4zM54 575h4v1h-4zM56 574h4v1h-4zM57 573h5v1h-5zM59 572h5v1h-5zM61 571h5v1h-5zM63 570h5v1h-5zM65 569h24v1h-24zM67 568h20v1h-20zM86 570h5v1h-5zM88 571h8v1h-8zM90 572h14v1h-14zM95 573h17v1h-17zM103 574h6v1h-6zM108 572h6v1h-6zM111 571h5v1h-5zM113 570h4v1h-4zM115 569h3v1h-3zM116 568h3v1h-3zM117 567h4v1h-4zM118 566h4v1h-4zM120 565h3v1h-3zM121 564h3v1h-3zM122 563h4v1h-4zM123 562h7v1h-7zM125 561h10v1h-10zM129 560h4v1h-4zM132 562h5v1h-5zM134 563h5v1h-5zM136 564h8v1h-8zM138 565h12v1h-12zM143 566h11v1h-11zM149 567h7v1h-7zM153 568h5v1h-5zM155 569h4v1h-4zM157 570h3v1h-3zM158 571h4v1h-4zM159 572h4v1h-4zM161 573h3v1h-3zM162 574h4v1h-4zM163 575h4v1h-4zM165 576h3v1h-3zM166 577h4v1h-4zM167 578h9v1h-9zM169 579h19v1h-19zM175 580h29v1h-29zM187 581h26v1h-26zM203 582h13v1h-13zM212 583h7v1h-7zM215 584h9v1h-9zM218 585h11v1h-11zM223 586h9v1h-9zM228 587h7v1h-7zM231 588h6v1h-6zM234 589h6v1h-6zM236 590h14v1h-14zM239 591h9v1h-9zM247 589h5v1h-5zM249 588h4v1h-4zM251 587h4v1h-4zM252 586h5v1h-5zM254 585h4v1h-4zM256 584h4v1h-4zM257 583h6v1h-6zM259 582h13v1h-13zM262 581h12v1h-12zM271 580h5v1h-5zM273 579h7v1h-7zM275 578h9v1h-9zM279 577h18v1h-18zM283 576h16v1h-16zM296 575h21v1h-21zM298 574h51v1h-51zM316 573h32v1h-32zM347 575h3v1h-3zM348 576h3v1h-3zM349 577h3v1h-3zM350 578h3v1h-3zM351 579h3v1h-3zM352 580h3v1h-3zM353 581h3v1h-3zM354 582h33v1h-33zM355 583h34v1h-34zM386 584h4v1h-4zM388 585h4v1h-4zM389 586h4v1h-4zM391 587h3v1h-3zM392 588h4v1h-4zM393 589h12v1h-12zM395 590h12v1h-12zM404 591h5v1h-5zM406 592h10v1h-10zM408 593h6v1h-6zM410 594h2v1h-2zM413 591h5v1h-5zM415 590h5v1h-5zM417 589h5v1h-5zM419 588h7v1h-7zM421 587h8v1h-8zM425 586h8v1h-8zM428 585h19v1h-19zM432 584h10v1h-10zM441 586h10v1h-10zM446 587h24v1h-24zM450 588h19v1h-19zM468 586h3v1h-3zM469 585h4v1h-4zM470 584h4v1h-4zM472 583h3v1h-3zM473 582h3v1h-3zM474 581h7v1h-7zM475 580h17v1h-17zM480 579h8v1h-8zM487 581h8v1h-8zM491 582h6v1h-6zM494 583h7v1h-7zM496 584h10v1h-10zM500 585h42v1h-42zM505 586h16v1h-16zM520 584h6v1h-6zM525 586h16v1h-16zM540 584h3v1h-3zM541 583h4v1h-4zM542 582h4v1h-4zM544 581h3v1h-3zM545 580h3v1h-3zM546 579h4v1h-4zM547 578h5v1h-5zM549 577h5v1h-5zM551 576h5v1h-5zM553 575h5v1h-5zM555 574h5v1h-5zM557 573h5v1h-5zM559 572h5v1h-5zM561 571h20v1h-20zM563 570h13v1h-13zM575 572h9v1h-9zM580 573h7v1h-7zM583 574h12v1h-12zM586 575h11v1h-11zM594 576h4v1h-4zM596 577h4v1h-4zM597 578h4v1h-4zM599 579h4v1h-4zM600 580h5v1h-5zM602 581h6v1h-6zM604 582h40v1h-40zM607 583h39v1h-39zM643 584h4v1h-4zM645 585h3v1h-3zM646 586h4v1h-4zM647 587h4v1h-4zM649 588h4v1h-4zM650 589h5v1h-5zM652 590h4v1h-4zM654 591h4v1h-4zM655 592h5v1h-5zM657 593h5v1h-5zM659 594h5v1h-5zM661 595h5v1h-5zM663 596h21v1h-21zM665 597h22v1h-22zM683 598h8v1h-8zM686 599h8v1h-8zM690 600h19v1h-19zM693 601h48v1h-48zM708 602h13v1h-13zM720 600h22v1h-22zM740 599h4v1h-4zM741 598h4v1h-4zM743 597h3v1h-3zM744 596h4v1h-4zM745 595h4v1h-4zM747 594h4v1h-4zM748 593h5v1h-5zM750 592h5v1h-5zM752 591h9v1h-9zM754 590h3v1h-3zM756 592h18v1h-18zM760 593h13v1h-13zM772 590h3v1h-3zM772 591h2v1h-2zM773 589h3v1h-3zM774 587h3v1h-3zM774 588h2v1h-2zM775 585h3v1h-3zM775 586h2v1h-2zM776 584h3v1h-3zM777 582h4v1h-4zM777 583h2v1h-2zM778 581h6v1h-6zM780 580h7v1h-7zM783 579h6v1h-6zM786 578h5v1h-5zM788 577h4v1h-4zM790 576h3v1h-3zM791 575h4v1h-4zM792 574h4v1h-4zM794 573h2v1h-2z" fill="#8B0000"/>
<path d="M3 631h5v1h-5zM8 630h5v1h-5zM13 631h2v1h-2zM15 632h2v1h-2zM17 633h2v1h-2zM19 634h2v1h-2zM21 633h2v1h-2zM23 632h2v1h-2zM25 631h2v1h-2zM27 630h12v1h-12zM39 631h2v1h-2zM41 632h2v1h-2zM43 633h3v1h-3zM46 634h2v1h-2zM48 635h2v1h-2zM50 636h2v1h-2zM52 634h1v1h-1zM52 635h1v1h-1zM53 633h1v1h-1zM54 631h1v1h-1zM54 632h1v1h-1zM55 629h1v1h-1zM55 630h1v1h-1zM56 628h1v1h-1zM57 626h1v1h-1zM57 627h1v1h-1zM58 625h2v1h-2zM60 624h3v1h-3zM63 623h2v1h-2zM65 622h2v1h-2zM67 623h1v1h-1zM67 624h1v1h-1zM68 625h1v1h-1zM69 626h1v1h-1zM69 627h1v1h-1zM70 628h1v1h-1zM71 629h1v1h-1zM71 630h1v1h-1zM72 631h1v1h-1zM73 632h1v1h-1zM73 633h1v1h-1zM74 634h10v1h-10zM84 635h1v1h-1zM85 636h1v1h-1zM86 637h2v1h-2zM88 638h1v1h-1zM89 639h1v1h-1zM90 640h1v1h-1zM91 639h1v1h-1zM92 638h2v1h-2zM94 637h1v1h-1zM95 636h1v1h-1zM96 635h2v1h-2zM98 634h1v1h-1zM99 633h1v1h-1zM100 634h1v1h-1zM101 635h1v1h-1zM102 636h2v1h-2zM104 637h1v1h-1zM105 638h1v1h-1zM106 639h2v1h-2zM108 638h2v1h-2zM110 637h2v1h-2zM112 636h2v1h-2zM114 635h1v1h-1zM115 634h1v1h-1zM116 633h1v1h-1zM117 632h1v1h-1zM118 630h1v1h-1zM118 631h1v1h-1zM119 629h1v1h-1zM120 628h1v1h-1zM121 627h1v1h-1zM122 626h1v1h-1zM123 625h2v1h-2zM125 624h2v1h-2zM127 623h2v1h-2zM129 622h3v1h-3zM132 623h3v1h-3zM135 624h3v1h-3zM138 625h3v1h-3zM141 626h2v1h-2zM143 627h2v1h-2zM145 628h3v1h-3zM148 627h2v1h-2zM150 626h2v1h-2zM152 625h2v1h-2zM154 624h4v1h-4zM158 625h4v1h-4zM162 626h1v1h-1zM162 627h1v1h-1zM163 628h1v1h-1zM163 629h1v1h-1zM164 630h1v1h-1zM165 631h1v1h-1zM165 632h1v1h-1zM166 633h1v1h-1zM167 634h1v1h-1zM167 635h1v1h-1zM168 636h1v1h-1zM168 637h1v1h-1zM169 638h1v1h-1zM170 639h1v1h-1zM170 640h1v1h-1zM171 641h4v1h-4zM175 640h8v1h-8zM183 641h5v1h-5zM188 642h3v1h-3zM191 643h3v1h-3zM194 644h3v1h-3zM197 643h2v1h-2zM199 642h2v1h-2zM201 641h2v1h-2zM203 640h11v1h-11zM214 641h4v1h-4zM218 642h2v1h-2zM220 643h1v1h-1zM221 644h1v1h-1zM222 645h1v1h-1zM222 646h1v1h-1zM223 647h1v1h-1zM224 648h1v1h-1zM225 649h1v1h-1zM226 650h1v1h-1zM227 651h1v1h-1zM227 652h1v1h-1zM228 653h1v1h-1zM229 654h1v1h-1zM230 655h1v1h-1zM230 656h1v1h-1zM231 657h1v1h-1zM232 658h1v1h-1zM233 659h1v1h-1zM233 660h1v1h-1zM234 661h2v1h-2zM236 662h2v1h-2zM238 663h2v1h-2zM240 664h2v1h-2zM242 665h2v1h-2zM244 664h1v1h-1zM245 663h1v1h-1zM246 662h2v1h-2zM248 661h1v1h-1zM249 660h1v1h-1zM250 659h2v1h-2zM252 658h2v1h-2zM254 657h2v1h-2zM256 656h2v1h-2zM258 655h3v1h-3zM261 654h4v1h-4zM265 653h2v1h-2zM267 652h2v1h-2zM269 651h1v1h-1zM270 650h1v1h-1zM271 649h2v1h-2zM273 648h1v1h-1zM274 647h1v1h-1zM275 646h1v1h-1zM276 645h1v1h-1zM277 644h1v1h-1zM278 643h1v1h-1zM279 642h1v1h-1zM280 641h1v1h-1zM281 640h1v1h-1zM282 639h1v1h-1zM283 638h2v1h-2zM285 639h3v1h-3zM288 640h2v1h-2zM290 641h3v1h-3zM293 640h2v1h-2zM295 639h2v1h-2zM297 638h6v1h-6zM303 637h16v1h-16zM319 636h5v1h-5zM324 635h3v1h-3zM327 634h2v1h-2zM329 633h4v1h-4zM333 632h4v1h-4zM337 631h3v1h-3zM340 630h2v1h-2zM342 629h2v1h-2zM344 628h2v1h-2zM346 627h3v1h-3zM349 628h2v1h-2zM351 629h2v1h-2zM353 630h3v1h-3zM356 631h2v1h-2zM358 632h2v1h-2zM360 633h2v1h-2zM362 634h3v1h-3zM365 635h2v1h-2zM367 636h2v1h-2zM369 637h4v1h-4zM373 636h4v1h-4zM377 635h3v1h-3zM380 636h4v1h-4zM384 637h2v1h-2zM386 638h1v1h-1zM387 639h1v1h-1zM388 640h1v1h-1zM389 641h2v1h-2zM391 642h1v1h-1zM392 643h1v1h-1zM393 644h1v1h-1zM394 645h1v1h-1zM395 646h4v1h-4zM399 645h4v1h-4zM403 646h1v1h-1zM404 647h1v1h-1zM405 648h2v1h-2zM407 649h1v1h-1zM408 650h1v1h-1zM409 651h1v1h-1zM410 652h1v1h-1zM411 651h2v1h-2zM413 650h1v1h-1zM414 649h2v1h-2zM416 648h1v1h-1zM417 647h2v1h-2zM419 646h4v1h-4zM423 647h22v1h-22zM445 648h4v1h-4zM449 649h4v1h-4zM453 650h4v1h-4zM457 651h2v1h-2zM459 650h1v1h-1zM460 649h1v1h-1zM461 648h1v1h-1zM462 647h1v1h-1zM463 646h1v1h-1zM464 645h1v1h-1zM465 644h1v1h-1zM466 643h1v1h-1zM467 642h4v1h-4zM471 641h8v1h-8zM479 640h5v1h-5zM484 641h2v1h-2zM486 642h2v1h-2zM488 643h2v1h-2zM490 644h5v1h-5zM495 643h5v1h-5zM500 642h2v1h-2zM502 641h2v1h-2zM504 640h2v1h-2zM506 639h5v1h-5zM511 640h4v1h-4zM515 639h1v1h-1zM516 638h1v1h-1zM517 637h1v1h-1zM518 636h1v1h-1zM519 635h1v1h-1zM520 634h1v1h-1zM521 633h1v1h-1zM522 632h1v1h-1zM523 633h1v1h-1zM524 634h1v1h-1zM525 635h1v1h-1zM526 636h1v1h-1zM527 637h1v1h-1zM528 638h1v1h-1zM529 639h1v1h-1zM530 640h1v1h-1zM531 641h8v1h-8zM539 640h2v1h-2zM541 639h2v1h-2zM543 638h2v1h-2zM545 637h2v1h-2zM547 636h3v1h-3zM550 635h4v1h-4zM554 634h3v1h-3zM557 633h2v1h-2zM559 632h2v1h-2zM561 631h6v1h-6zM567 630h9v1h-9zM576 631h4v1h-4zM580 632h2v1h-2zM582 633h2v1h-2zM584 634h1v1h-1zM585 635h2v1h-2zM587 636h4v1h-4zM591 637h8v1h-8zM599 638h8v1h-8zM607 637h8v1h-8zM615 636h8v1h-8zM623 637h16v1h-16zM639 636h7v1h-7zM646 637h4v1h-4zM650 638h1v1h-1zM651 639h1v1h-1zM651 640h1v1h-1zM652 641h1v1h-1zM653 642h1v1h-1zM654 643h1v1h-1zM655 644h1v1h-1zM656 645h1v1h-1zM656 646h1v1h-1zM657 647h1v1h-1zM658 648h1v1h-1zM659 649h2v1h-2zM661 650h4v1h-4zM665 651h4v1h-4zM669 652h4v1h-4zM673 653h6v1h-6zM679 654h5v1h-5zM684 655h3v1h-3zM687 656h3v1h-3zM690 657h14v1h-14zM704 656h12v1h-12zM716 655h3v1h-3zM719 654h2v1h-2zM721 653h4v1h-4zM725 654h4v1h-4zM729 655h4v1h-4zM733 654h4v1h-4zM737 653h4v1h-4zM741 652h4v1h-4zM745 651h6v1h-6zM751 650h12v1h-12zM763 649h2v1h-2zM765 648h2v1h-2zM767 647h2v1h-2zM769 646h2v1h-2zM771 645h1v1h-1zM772 644h1v1h-1zM773 642h1v1h-1zM773 643h1v1h-1zM774 641h1v1h-1zM775 640h1v1h-1zM776 638h1v1h-1zM776 639h1v1h-1zM777 637h1v1h-1zM778 636h2v1h-2zM780 637h3v1h-3zM783 638h2v1h-2zM785 639h2v1h-2zM787 638h2v1h-2zM789 637h1v1h-1zM790 636h1v1h-1zM791 635h2v1h-2zM793 634h1v1h-1zM794 633h1v1h-1z" fill="#1E90FF"/>
<path d="M3 681h2v1h-2zM5 680h2v1h-2zM7 679h1v1h-1zM8 678h2v1h-2zM10 677h5v1h-5zM15 678h5v1h-5zM20 679h3v1h-3zM23 680h2v1h-2zM25 681h2v1h-2zM27 682h1v1h-1zM27 683h1v1h-1zM28 684h1v1h-1zM29 685h1v1h-1zM29 686h1v1h-1zM30 687h1v1h-1zM31 688h1v1h-1zM31 689h1v1h-1zM32 690h1v1h-1zM33 691h1v1h-1zM33 692h1v1h-1zM34 693h1v1h-1zM35 694h1v1h-1zM35 695h1v1h-1zM36 696h1v1h-1zM36 697h1v1h-1zM37 698h1v1h-1zM37 699h1v1h-1zM38 700h1v1h-1zM39 701h1v1h-1zM39 702h1v1h-1zM40 703h1v1h-1zM40 704h1v1h-1zM41 705h1v1h-1zM41 706h1v1h-1zM42 707h13v1h-13zM55 706h4v1h-4zM59 704h1v1h-1zM59 705h1v1h-1zM60 702h1v1h-1zM60 703h1v1h-1zM61 700h1v1h-1zM61 701h1v1h-1zM62 699h1v1h-1zM63 697h1v1h-1zM63 698h1v1h-1zM64 695h1v1h-1zM64 696h1v1h-1zM65 693h1v1h-1zM65 694h1v1h-1zM66 692h1v1h-1zM67 690h1v1h-1zM67 691h1v1h-1zM68 689h1v1h-1zM69 688h1v1h-1zM70 686h1v1h-1zM70 687h1v1h-1zM71 685h1v1h-1zM72 684h1v1h-1zM73 682h1v1h-1zM73 683h1v1h-1zM74 681h1v1h-1zM75 680h2v1h-2zM77 679h2v1h-2zM79 678h1v1h-1zM80 677h2v1h-2zM82 676h3v1h-3zM85 677h4v1h-4zM89 678h10v1h-10zM99 679h1v1h-1zM100 680h1v1h-1zM101 681h1v1h-1zM102 682h1v1h-1zM102 683h1v1h-1zM103 684h1v1h-1zM104 685h1v1h-1zM105 686h1v1h-1zM106 687h1v1h-1zM107 686h2v1h-2zM109 685h2v1h-2zM111 684h1v1h-1zM112 683h2v1h-2zM114 682h1v1h-1zM115 681h2v1h-2zM117 680h2v1h-2zM119 679h1v1h-1zM120 678h2v1h-2zM122 677h1v1h-1zM123 676h2v1h-2zM125 675h2v1h-2zM127 674h1v1h-1zM128 673h2v1h-2zM130 672h2v1h-2zM132 673h3v1h-3zM135 674h2v1h-2zM137 675h3v1h-3zM140 676h2v1h-2zM142 677h2v1h-2zM144 678h2v1h-2zM146 679h1v1h-1zM147 680h2v1h-2zM149 681h2v1h-2zM151 682h1v1h-1zM152 683h2v1h-2zM154 684h1v1h-1zM155 685h1v1h-1zM156 686h1v1h-1zM157 687h1v1h-1zM158 688h1v1h-1zM158 689h1v1h-1zM159 690h1v1h-1zM160 691h1v1h-1zM161 692h1v1h-1zM162 693h1v1h-1zM163 694h1v1h-1zM164 695h1v1h-1zM165 696h1v1h-1zM166 697h1v1h-1zM167 698h1v1h-1zM168 699h1v1h-1zM169 700h1v1h-1zM170 701h1v1h-1zM171 702h1v1h-1zM172 703h1v1h-1zM173 704h1v1h-1zM174 705h1v1h-1zM175 706h1v1h-1zM176 707h1v1h-1zM177 708h1v1h-1zM178 709h2v1h-2zM180 710h2v1h-2zM182 711h2v1h-2zM184 712h2v1h-2zM186 713h11v1h-11zM197 714h4v1h-4zM201 715h14v1h-14zM215 716h24v1h-24zM239 715h4v1h-4zM243 714h2v1h-2zM245 713h2v1h-2zM247 712h1v1h-1zM248 711h2v1h-2zM250 710h1v1h-1zM251 709h1v1h-1zM252 708h1v1h-1zM253 707h1v1h-1zM254 706h1v1h-1zM255 705h1v1h-1zM256 704h1v1h-1zM257 703h1v1h-1zM258 702h1v1h-1zM259 701h1v1h-1zM260 700h1v1h-1zM261 699h2v1h-2zM263 698h1v1h-1zM264 697h1v1h-1zM265 696h1v1h-1zM266 695h1v1h-1zM267 694h2v1h-2zM269 693h2v1h-2zM271 692h1v1h-1zM272 691h2v1h-2zM274 690h2v1h-2zM276 689h2v1h-2zM278 688h2v1h-2zM280 687h2v1h-2zM282 686h1v1h-1zM283 685h1v1h-1zM284 684h1v1h-1zM285 683h2v1h-2zM287 682h1v1h-1zM288 681h1v1h-1zM289 680h1v1h-1zM290 679h1v1h-1zM291 678h2v1h-2zM293 677h1v1h-1zM294 676h1v1h-1zM295 675h2v1h-2zM297 674h1v1h-1zM298 673h3v1h-3zM301 674h4v1h-4zM305 675h4v1h-4zM309 674h4v1h-4zM313 673h6v1h-6zM319 674h8v1h-8zM327 675h14v1h-14zM341 676h4v1h-4zM345 677h2v1h-2zM346 678h1v1h-1zM347 679h1v1h-1zM347 680h1v1h-1zM348 681h1v1h-1zM348 682h1v1h-1zM349 683h1v1h-1zM349 684h1v1h-1zM350 685h1v1h-1zM350 686h1v1h-1zM350 687h1v1h-1zM351 688h1v1h-1zM351 689h1v1h-1zM352 690h1v1h-1zM352 691h1v1h-1zM353 692h1v1h-1zM353 693h1v1h-1zM354 694h1v1h-1zM354 695h1v1h-1zM355 696h1v1h-1zM355 697h1v1h-1zM356 698h1v1h-1zM357 699h1v1h-1zM357 700h1v1h-1zM358 701h1v1h-1zM359 702h1v1h-1zM359 703h1v1h-1zM360 704h1v1h-1zM361 705h1v1h-1zM361 706h1v1h-1zM362 707h2v1h-2zM364 708h2v1h-2zM366 709h2v1h-2zM368 710h2v1h-2zM370 711h1v1h-1zM371 710h2v1h-2zM373 709h2v1h-2zM375 708h1v1h-1zM376 707h2v1h-2zM378 706h5v1h-5zM383 707h5v1h-5zM388 708h2v1h-2zM390 709h2v1h-2zM392 710h2v1h-2zM394 711h2v1h-2zM396 712h3v1h-3zM399 713h2v1h-2zM401 714h4v1h-4zM405 715h4v1h-4zM409 716h2v1h-2zM411 715h2v1h-2zM413 714h1v1h-1zM414 713h1v1h-1zM415 712h2v1h-2zM417 711h1v1h-1zM418 710h1v1h-1zM419 709h2v1h-2zM421 708h2v1h-2zM423 707h1v1h-1zM424 706h2v1h-2zM426 705h1v1h-1zM427 704h1v1h-1zM428 703h1v1h-1zM429 702h1v1h-1zM430 700h1v1h-1zM430 701h1v1h-1zM431 699h1v1h-1zM432 698h1v1h-1zM433 697h1v1h-1zM434 696h5v1h-5zM439 697h14v1h-14zM453 698h4v1h-4zM457 699h3v1h-3zM460 698h3v1h-3zM463 697h2v1h-2zM465 696h2v1h-2zM467 695h1v1h-1zM468 694h1v1h-1zM469 693h1v1h-1zM470 691h1v1h-1zM470 692h1v1h-1zM471 690h1v1h-1zM472 689h1v1h-1zM473 688h1v1h-1zM474 687h1v1h-1zM475 686h1v1h-1zM476 685h1v1h-1zM477 684h1v1h-1zM478 683h1v1h-1zM479 682h1v1h-1zM480 681h1v1h-1zM481 680h1v1h-1zM482 679h5v1h-5zM487 678h4v1h-4zM491 679h1v1h-1zM491 680h1v1h-1zM492 681h1v1h-1zM493 682h1v1h-1zM493 683h1v1h-1zM494 684h1v1h-1zM495 685h1v1h-1zM495 686h1v1h-1zM496 687h1v1h-1zM497 688h1v1h-1zM497 689h1v1h-1zM498 690h1v1h-1zM499 691h1v1h-1zM499 692h1v1h-1zM500 693h1v1h-1zM500 694h1v1h-1zM501 695h1v1h-1zM502 696h1v1h-1zM502 697h1v1h-1zM503 698h1v1h-1zM504 699h1v1h-1zM504 700h1v1h-1zM505 701h1v1h-1zM505 702h1v1h-1zM506 703h1v1h-1zM507 704h1v1h-1zM508 705h1v1h-1zM508 706h1v1h-1zM509 707h1v1h-1zM510 708h1v1h-1zM511 709h1v1h-1zM512 710h1v1h-1zM512 711h1v1h-1zM513 712h1v1h-1zM514 713h5v1h-5zM519 712h20v1h-20zM539 711h1v1h-1zM540 710h1v1h-1zM541 709h1v1h-1zM542 707h1v1h-1zM542 708h1v1h-1zM543 706h1v1h-1zM544 705h1v1h-1zM545 704h1v1h-1zM546 703h1v1h-1zM547 701h1v1h-1zM547 702h1v1h-1zM548 699h1v1h-1zM548 700h1v1h-1zM549 697h1v1h-1zM549 698h1v1h-1zM550 696h1v1h-1zM551 694h1v1h-1zM551 695h1v1h-1zM552 692h1v1h-1zM552 693h1v1h-1zM553 690h1v1h-1zM553 691h1v1h-1zM554 689h1v1h-1zM555 687h1v1h-1zM555 688h1v1h-1zM556 685h1v1h-1zM556 686h1v1h-1zM557 683h1v1h-1zM557 684h1v1h-1zM558 682h1v1h-1zM559 680h1v1h-1zM559 681h1v1h-1zM560 678h1v1h-1zM560 679h1v1h-1zM561 676h1v1h-1zM561 677h1v1h-1zM562 675h13v1h-13zM575 676h4v1h-4zM579 677h2v1h-2zM581 678h2v1h-2zM583 679h1v1h-1zM584 680h2v1h-2zM586 681h3v1h-3zM589 682h4v1h-4zM593 683h2v1h-2zM595 684h1v1h-1zM596 685h1v1h-1zM597 686h1v1h-1zM598 687h1v1h-1zM599 688h1v1h-1zM600 689h1v1h-1zM601 690h1v1h-1zM602 691h1v1h-1zM603 692h1v1h-1zM604 693h1v1h-1zM605 694h1v1h-1zM606 695h1v1h-1zM606 696h1v1h-1zM607 697h1v1h-1zM608 698h1v1h-1zM609 699h1v1h-1zM610 700h1v1h-1zM611 701h1v1h-1zM611 702h1v1h-1zM612 703h1v1h-1zM613 704h1v1h-1zM614 705h1v1h-1zM614 706h1v1h-1zM615 707h1v1h-1zM616 708h1v1h-1zM617 709h1v1h-1zM617 710h1v1h-1zM618 711h1v1h-1zM619 712h2v1h-2zM621 713h2v1h-2zM623 714h1v1h-1zM624 715h2v1h-2zM626 716h2v1h-2zM628 715h3v1h-3zM631 714h2v1h-2zM633 713h6v1h-6zM639 714h14v1h-14zM653 715h4v1h-4zM657 716h14v1h-14zM671 715h24v1h-24zM695 716h21v1h-21zM716 715h3v1h-3zM719 714h2v1h-2zM721 713h11v1h-11zM732 712h3v1h-3zM735 711h2v1h-2zM737 710h3v1h-3zM740 709h3v1h-3zM743 708h2v1h-2zM745 707h2v1h-2zM747 706h1v1h-1zM748 704h1v1h-1zM748 705h1v1h-1zM749 703h1v1h-1zM750 702h1v1h-1zM751 701h1v1h-1zM752 699h1v1h-1zM752 700h1v1h-1zM753 698h1v1h-1zM754 697h1v1h-1zM755 696h1v1h-1zM756 695h1v1h-1zM757 694h2v1h-2zM759 693h1v1h-1zM760 692h1v1h-1zM761 691h1v1h-1zM762 690h2v1h-2zM764 691h2v1h-2zM766 692h2v1h-2zM768 693h2v1h-2zM770 694h1v1h-1zM771 693h1v1h-1zM772 692h1v1h-1zM773 691h2v1h-2zM775 690h1v1h-1zM776 689h1v1h-1zM777 688h1v1h-1zM778 687h2v1h-2zM780 686h2v1h-2zM782 685h2v1h-2zM784 684h2v1h-2zM786 683h1v1h-1zM787 682h1v1h-1zM788 681h1v1h-1zM789 680h2v1h-2zM791 679h1v1h-1zM792 678h1v1h-1zM793 677h1v1h-1zM794 676h1v1h-1z" fill="#20B2AA"/>
<path d="M3 682h1v1h-1zM4 681h1v1h-1zM8 680h1v1h-1zM9 679h2v1h-2zM14 679h3v1h-3zM20 679h3v1h-3zM26 678h1v1h-1zM27 679h2v1h-2zM32 682h1v1h-1zM33 683h1v1h-1zM34 684h1v1h-1zM37 688h1v1h-1zM38 689h1v1h-1zM39 690h1v1h-1zM42 694h1v1h-1zM43 695h1v1h-1zM44 696h1v1h-1zM48 700h1v1h-1zM49 701h1v1h-1zM50 702h1v1h-1zM54 704h1v1h-1zM55 705h1v1h-1zM56 706h1v1h-1zM60 706h1v1h-1zM61 705h2v1h-2zM66 702h1v1h-1zM67 701h1v1h-1zM68 700h1v1h-1zM71 696h1v1h-1zM72 695h1v1h-1zM73 694h1v1h-1zM76 690h1v1h-1zM77 689h1v1h-1zM78 688h1v1h-1zM81 684h1v1h-1zM82 683h1v1h-1zM83 682h1v1h-1zM87 680h1v1h-1zM88 679h2v1h-2zM93 678h2v1h-2zM95 677h1v1h-1zM99 677h1v1h-1zM100 678h2v1h-2zM105 680h1v1h-1zM106 681h2v1h-2zM111 682h3v1h-3zM117 682h3v1h-3zM123 681h2v1h-2zM125 680h1v1h-1zM129 678h1v1h-1zM130 677h2v1h-2zM135 676h2v1h-2zM137 675h1v1h-1zM141 675h3v1h-3zM147 675h1v1h-1zM148 676h2v1h-2zM153 678h1v1h-1zM154 679h1v1h-1zM155 680h1v1h-1zM159 683h2v1h-2zM161 684h1v1h-1zM165 688h1v1h-1zM166 689h1v1h-1zM167 690h1v1h-1zM171 694h1v1h-1zM172 695h1v1h-1zM173 696h1v1h-1zM177 700h1v1h-1zM178 701h1v1h-1zM179 702h1v1h-1zM183 705h1v1h-1zM184 706h1v1h-1zM185 707h1v1h-1zM189 709h2v1h-2zM191 710h1v1h-1zM195 711h2v1h-2zM197 712h1v1h-1zM201 713h3v1h-3zM207 714h3v1h-3zM213 714h2v1h-2zM215 715h1v1h-1zM219 715h3v1h-3zM225 715h3v1h-3zM231 716h3v1h-3zM237 716h2v1h-2zM239 715h1v1h-1zM243 715h2v1h-2zM245 714h1v1h-1zM249 713h3v1h-3zM255 711h1v1h-1zM256 710h2v1h-2zM261 706h2v1h-2zM263 705h1v1h-1zM267 701h2v1h-2zM269 700h1v1h-1zM273 697h1v1h-1zM274 696h1v1h-1zM275 695h1v1h-1zM279 692h2v1h-2zM281 691h1v1h-1zM285 688h2v1h-2zM287 687h1v1h-1zM291 684h2v1h-2zM293 683h1v1h-1zM297 680h1v1h-1zM298 679h2v1h-2zM303 677h1v1h-1zM304 676h2v1h-2zM309 675h2v1h-2zM311 674h1v1h-1zM315 674h3v1h-3zM321 674h3v1h-3zM327 674h3v1h-3zM333 674h3v1h-3zM339 674h3v1h-3zM345 675h2v1h-2zM347 676h1v1h-1zM351 679h1v1h-1zM352 680h1v1h-1zM353 681h1v1h-1zM356 685h1v1h-1zM357 686h1v1h-1zM358 687h1v1h-1zM361 691h1v1h-1zM361 692h1v1h-1zM362 693h1v1h-1zM365 697h1v1h-1zM366 698h1v1h-1zM366 699h1v1h-1zM369 703h1v1h-1zM370 704h2v1h-2zM375 706h1v1h-1zM376 707h2v1h-2zM381 708h3v1h-3zM387 708h3v1h-3zM393 708h3v1h-3zM399 710h2v1h-2zM401 711h1v1h-1zM405 712h3v1h-3zM411 713h3v1h-3zM417 713h3v1h-3zM423 711h2v1h-2zM425 710h1v1h-1zM429 708h1v1h-1zM430 707h1v1h-1zM431 706h1v1h-1zM435 703h2v1h-2zM437 702h1v1h-1zM441 700h1v1h-1zM442 699h2v1h-2zM447 698h2v1h-2zM449 697h1v1h-1zM453 697h2v1h-2zM455 698h1v1h-1zM459 698h3v1h-3zM465 697h3v1h-3zM471 695h2v1h-2zM473 694h1v1h-1zM477 691h2v1h-2zM479 690h1v1h-1zM483 686h2v1h-2zM485 685h1v1h-1zM489 682h1v1h-1zM490 681h2v1h-2zM495 682h3v1h-3zM501 685h1v1h-1zM502 686h1v1h-1zM503 687h1v1h-1zM507 691h1v1h-1zM507 692h1v1h-1zM508 693h1v1h-1zM511 697h1v1h-1zM511 698h1v1h-1zM512 699h1v1h-1zM515 703h1v1h-1zM516 704h1v1h-1zM517 705h1v1h-1zM521 708h1v1h-1zM522 709h2v1h-2zM527 711h2v1h-2zM529 712h1v1h-1zM533 712h3v1h-3zM539 712h1v1h-1zM540 711h2v1h-2zM545 709h2v1h-2zM547 708h1v1h-1zM551 704h1v1h-1zM552 703h1v1h-1zM553 702h1v1h-1zM556 698h1v1h-1zM557 696h1v1h-1zM557 697h1v1h-1zM560 692h1v1h-1zM561 690h1v1h-1zM561 691h1v1h-1zM565 686h1v1h-1zM566 684h1v1h-1zM566 685h1v1h-1zM570 680h1v1h-1zM571 679h2v1h-2zM576 676h2v1h-2zM578 675h1v1h-1zM582 676h3v1h-3zM588 678h3v1h-3zM594 680h1v1h-1zM595 681h2v1h-2zM600 684h2v1h-2zM602 685h1v1h-1zM606 688h1v1h-1zM607 689h2v1h-2zM612 693h1v1h-1zM613 694h1v1h-1zM614 695h1v1h-1zM617 699h1v1h-1zM618 700h1v1h-1zM619 701h1v1h-1zM622 705h1v1h-1zM623 706h1v1h-1zM624 707h1v1h-1zM628 710h2v1h-2zM630 711h1v1h-1zM634 713h3v1h-3zM640 714h3v1h-3zM646 714h3v1h-3zM652 714h3v1h-3zM658 715h3v1h-3zM664 715h3v1h-3zM670 715h3v1h-3zM676 715h3v1h-3zM682 715h3v1h-3zM688 715h3v1h-3zM694 715h3v1h-3zM700 715h3v1h-3zM706 715h3v1h-3zM712 716h3v1h-3zM718 716h1v1h-1zM719 715h2v1h-2zM724 715h3v1h-3zM730 714h3v1h-3zM736 713h1v1h-1zM737 712h2v1h-2zM742 711h3v1h-3zM748 709h1v1h-1zM749 708h1v1h-1zM750 707h1v1h-1zM754 704h1v1h-1zM755 703h2v1h-2zM760 700h1v1h-1zM761 699h1v1h-1zM762 698h1v1h-1zM766 696h1v1h-1zM767 695h1v1h-1zM768 694h1v1h-1zM772 692h3v1h-3zM778 690h3v1h-3zM784 689h1v1h-1zM785 688h2v1h-2zM790 685h1v1h-1zM791 684h2v1h-2z" fill="#FF0000"/>
<rect x="2" y="2" width="1013" height="1" fill="#000"/>
<rect x="2" y="530" width="1013" height="1" fill="#000"/>
<rect x="2" y="2" width="1" height="529" fill="#000"/>
<rect x="1014" y="2" width="1" height="529" fill="#000"/>
<rect x="2" y="532" width="1013" height="1" fill="#000"/>
<rect x="2" y="616" width="1013" height="1" fill="#000"/>
<rect x="2" y="532" width="1" height="85" fill="#000"/>
<rect x="1014" y="532" width="1" height="85" fill="#000"/>
<rect x="2" y="618" width="1013" height="1" fill="#000"/>
<rect x="2" y="669" width="1013" height="1" fill="#000"/>
<rect x="2" y="618" width="1" height="52" fill="#000"/>
<rect x="1014" y="618" width="1" height="52" fill="#000"/>
<rect x="2" y="671" width="1013" height="1" fill="#000"/>
<rect x="2" y="717" width="1013" height="1" fill="#000"/>
<rect x="2" y="671" width="1" height="47" fill="#000"/>
<rect x="1014" y="671" width="1" height="47" fill="#000"/>
<rect x="1015" y="32" width="2" height="1" fill="#000"/>
<rect x="1015" y="65" width="2" height="1" fill="#000"/>
<rect x="1015" y="98" width="2" height="1" fill="#000"/>
<rect x="1015" y="131" width="2" height="1" fill="#000"/>
<rect x="1015" y="164" width="2" height="1" fill="#000"/>
<rect x="1015" y="197" width="2" height="1" fill="#000"/>
<rect x="1015" y="230" width="2" height="1" fill="#000"/>
<rect x="1015" y="263" width="2" height="1" fill="#000"/>
<rect x="1015" y="296" width="2" height="1" fill="#000"/>
<rect x="1015" y="329" width="2" height="1" fill="#000"/>
<rect x="1015" y="362" width="2" height="1" fill="#000"/>
<rect x="1015" y="395" width="2" height="1" fill="#000"/>
<rect x="1015" y="428" width="2" height="1" fill="#000"/>
<rect x="1015" y="461" width="2" height="1" fill="#000"/>
<rect x="1015" y="494" width="2" height="1" fill="#000"/>
<rect x="1015" y="527" width="2" height="1" fill="#000"/>
<rect x="1015" y="534" width="1" height="1" fill="#000"/>
<rect x="1015" y="615" width="1" height="1" fill="#000"/>
<rect x="1015" y="620" width="1" height="1" fill="#000"/>
<rect x="1015" y="668" width="1" height="1" fill="#000"/>
<rect x="1015" y="673" width="1" height="1" fill="#000"/>
<rect x="1015" y="716" width="1" height="1" fill="#000"/>
<rect x="3" y="718" width="1" height="3" fill="#000"/>
<rect x="67" y="718" width="1" height="3" fill="#000"/>
<rect x="131" y="718" width="1" height="3" fill="#000"/>
<rect x="195" y="718" width="1" height="3" fill="#000"/>
<rect x="259" y="718" width="1" height="3" fill="#000"/>
<rect x="323" y="718" width="1" height="3" fill="#000"/>
<rect x="387" y="718" width="1" height="3" fill="#000"/>
<rect x="451" y="718" width="1" height="3" fill="#000"/>
<rect x="515" y="718" width="1" height="3" fill="#000"/>
<rect x="579" y="718" width="1" height="3" fill="#000"/>
<rect x="643" y="718" width="1" height="3" fill="#000"/>
<rect x="707" y="718" width="1" height="3" fill="#000"/>
<rect x="771" y="718" width="1" height="3" fill="#000"/>
<rect x="1016" y="302" width="41" height="11" fill="#4682B4"/>
<rect x="1016" y="406" width="41" height="11" fill="#000"/>
<rect x="6" y="9" width="7" height="1" fill="#000"/>
<rect x="7" y="10" width="5" height="1" fill="#000"/>
<rect x="8" y="11" width="3" height="1" fill="#000"/>
<rect x="9" y="12" width="1" height="1" fill="#000"/>
</g>
<g>
<text x="18.2" y="14" textLength="65.6" lengthAdjust="spacingAndGlyphs">USDCAD,Daily</text>
<text x="90" y="14" textLength="33.6" lengthAdjust="spacingAndGlyphs">1.07105</text>
<text x="126" y="14" textLength="33.6" lengthAdjust="spacingAndGlyphs">1.07684</text>
<text x="162" y="14" textLength="33.6" lengthAdjust="spacingAndGlyphs">1.07090</text>
<text x="198.2" y="14" textLength="33.6" lengthAdjust="spacingAndGlyphs">1.07610</text>
<text x="1020.6" y="35" textLength="32.5" lengthAdjust="spacingAndGlyphs">1.12720</text>
<text x="1020.6" y="68" textLength="32.5" lengthAdjust="spacingAndGlyphs">1.12280</text>
<text x="1020.6" y="101" textLength="32.5" lengthAdjust="spacingAndGlyphs">1.11830</text>
<text x="1020.6" y="134" textLength="32.5" lengthAdjust="spacingAndGlyphs">1.11390</text>
<text x="1020.6" y="167" textLength="32.5" lengthAdjust="spacingAndGlyphs">1.10940</text>
<text x="1020.6" y="200" textLength="32.5" lengthAdjust="spacingAndGlyphs">1.10500</text>
<text x="1020.6" y="233" textLength="32.5" lengthAdjust="spacingAndGlyphs">1.10060</text>
<text x="1020.6" y="266" textLength="32.5" lengthAdjust="spacingAndGlyphs">1.09610</text>
<text x="1020.6" y="299" textLength="32.5" lengthAdjust="spacingAndGlyphs">1.09170</text>
<text x="1020.6" y="332" textLength="32.5" lengthAdjust="spacingAndGlyphs">1.08720</text>
<text x="1020.6" y="365" textLength="32.5" lengthAdjust="spacingAndGlyphs">1.08280</text>
<text x="1020.6" y="398" textLength="32.5" lengthAdjust="spacingAndGlyphs">1.07830</text>
<text x="1020.6" y="431" textLength="32.5" lengthAdjust="spacingAndGlyphs">1.07390</text>
<text x="1020.6" y="464" textLength="32.5" lengthAdjust="spacingAndGlyphs">1.06940</text>
<text x="1020.6" y="497" textLength="32.5" lengthAdjust="spacingAndGlyphs">1.06500</text>
<text x="1020.6" y="530" textLength="32.5" lengthAdjust="spacingAndGlyphs">1.06050</text>
<text x="1020.6" y="311" style="fill:#fff;stroke:#fff;stroke-width:.1px" textLength="32.5" lengthAdjust="spacingAndGlyphs">1.09002</text>
<text x="1020.6" y="415" style="fill:#fff;stroke:#fff;stroke-width:.1px" textLength="32.5" lengthAdjust="spacingAndGlyphs">1.07610</text>
<text x="1013" y="27" text-anchor="end" style="fill:#FF4500;stroke:#FF4500;stroke-width:.1px" textLength="23.2" lengthAdjust="spacingAndGlyphs">100.0</text>
<text x="1013" y="214" text-anchor="end" style="fill:#FF4500;stroke:#FF4500;stroke-width:.1px" textLength="18.1" lengthAdjust="spacingAndGlyphs">61.8</text>
<text x="1013" y="271" text-anchor="end" style="fill:#FF4500;stroke:#FF4500;stroke-width:.1px" textLength="18.1" lengthAdjust="spacingAndGlyphs">50.0</text>
<text x="1013" y="328" text-anchor="end" style="fill:#FF4500;stroke:#FF4500;stroke-width:.1px" textLength="18.1" lengthAdjust="spacingAndGlyphs">38.2</text>
<text x="1013" y="400" text-anchor="end" style="fill:#FF4500;stroke:#FF4500;stroke-width:.1px" textLength="18.1" lengthAdjust="spacingAndGlyphs">23.6</text>
<text x="1013" y="514" text-anchor="end" style="fill:#FF4500;stroke:#FF4500;stroke-width:.1px" textLength="13" lengthAdjust="spacingAndGlyphs">0.0</text>
<text x="1017.9" y="543" textLength="15.6" lengthAdjust="spacingAndGlyphs">100</text>
<text x="1016.9" y="561" textLength="10.2" lengthAdjust="spacingAndGlyphs">70</text>
<text x="1016.9" y="577" textLength="10.2" lengthAdjust="spacingAndGlyphs">50</text>
<text x="1016.9" y="594" textLength="10.2" lengthAdjust="spacingAndGlyphs">30</text>
<text x="1016.9" y="613" textLength="5.2" lengthAdjust="spacingAndGlyphs">0</text>
<text x="1017.9" y="629" textLength="34" lengthAdjust="spacingAndGlyphs">101.769</text>
<text x="1017.9" y="639" textLength="15.6" lengthAdjust="spacingAndGlyphs">100</text>
<text x="1016.9" y="666" textLength="34" lengthAdjust="spacingAndGlyphs">96.5293</text>
<text x="1017.9" y="682" textLength="15.6" lengthAdjust="spacingAndGlyphs">100</text>
<text x="1016.9" y="684" textLength="10.2" lengthAdjust="spacingAndGlyphs">80</text>
<text x="1016.9" y="711" textLength="10.2" lengthAdjust="spacingAndGlyphs">20</text>
<text x="1016.9" y="714" textLength="5.2" lengthAdjust="spacingAndGlyphs">0</text>
<text x="1.8" y="730" textLength="52.2" lengthAdjust="spacingAndGlyphs">26 Feb 2014</text>
<text x="65.8" y="730" textLength="51.8" lengthAdjust="spacingAndGlyphs">10 Mar 2014</text>
<text x="129.8" y="730" textLength="51.6" lengthAdjust="spacingAndGlyphs">20 Mar 2014</text>
<text x="193.8" y="730" textLength="45.4" lengthAdjust="spacingAndGlyphs">1 Apr 2014</text>
<text x="257.8" y="730" textLength="50.7" lengthAdjust="spacingAndGlyphs">11 Apr 2014</text>
<text x="321.8" y="730" textLength="51.2" lengthAdjust="spacingAndGlyphs">23 Apr 2014</text>
<text x="385.8" y="730" textLength="49.6" lengthAdjust="spacingAndGlyphs">5 May 2014</text>
<text x="449.8" y="730" textLength="54.4" lengthAdjust="spacingAndGlyphs">15 May 2014</text>
<text x="513.8" y="730" textLength="54.4" lengthAdjust="spacingAndGlyphs">27 May 2014</text>
<text x="577.8" y="730" textLength="45.9" lengthAdjust="spacingAndGlyphs">6 Jun 2014</text>
<text x="641.8" y="730" textLength="49.9" lengthAdjust="spacingAndGlyphs">18 Jun 2014</text>
<text x="705.8" y="730" textLength="49.9" lengthAdjust="spacingAndGlyphs">30 Jun 2014</text>
<text x="769.8" y="730" textLength="47.6" lengthAdjust="spacingAndGlyphs">10 Jul 2014</text>
</g>
</svg></body></html>
